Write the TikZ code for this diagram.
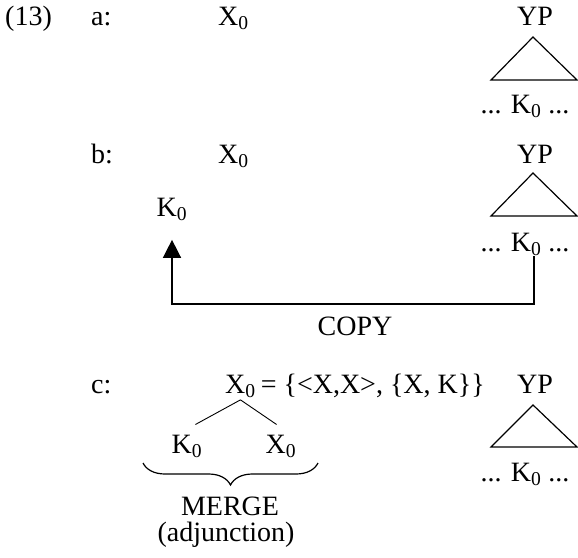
\documentclass[tikz,border=0pt]{standalone}
\usepackage{fontspec}
\setmainfont{Liberation Serif}
\usetikzlibrary{
    arrows.meta,
    positioning,
    calc,
    decorations.pathreplacing
}

\begin{document}
\begin{tikzpicture}[x=1pt, y=-1pt, font=\fontsize{28}{32}\selectfont,
                    txt/.style={inner sep=0pt, anchor=base west},
                    ctr/.style={inner sep=0pt, anchor=base}]
                    \useasboundingbox (0,0) rectangle (578,557);
                    % row a
                    \node[txt] (num) at (5,25) {(13)};
                    \node[txt] (la) at (91,25) {a:};
                    \node[txt] (xa) at (218,25) {X\textsubscript{0}};
                    \node[ctr] (ypa) at (535,25) {YP};
                    \node[ctr] (ka) at (525,113) {... K\textsubscript{0} ...};
                    \draw[line width=1.2pt] (533,37) -- (577,80) -- (491,80) -- cycle;
                    % row b
                    \node[txt] (lb) at (91,163) {b:};
                    \node[txt] (xb) at (218,163) {X\textsubscript{0}};
                    \node[ctr] (ypb) at (535,163) {YP};
                    \node[ctr] (kdots) at (525,251) {... K\textsubscript{0} ...};
                    \draw[line width=1.2pt] (533,173) -- (577,216) -- (491,216) -- cycle;
                    \node[ctr] (kb) at (172,216) {K\textsubscript{0}};
                    \draw[line width=1.5pt, -{Triangle[width=18pt, length=18pt]}, shorten >=19pt]
                        ([xshift=9pt]kdots.south) -- ++(0,48) -| (kb.south);
                    \node[ctr] (copy) at (355,335) {COPY};
                    % row c
                    \node[txt] (lc) at (91,393) {c:};
                    \node[txt] (xc) at (225,393) {X\textsubscript{0}};
                    \node[txt, right=0pt of xc.base east, anchor=base west] (set) {\,= \{<X,X>, \{X, K\}\}};
                    \node[ctr] (ypc) at (535,393) {YP};
                    \node[ctr] (kc3) at (525,481) {... K\textsubscript{0} ...};
                    \draw[line width=1.2pt] (533,405) -- (577,447) -- (491,447) -- cycle;
                    \node[ctr] (kc) at (187,453) {K\textsubscript{0}};
                    \node[ctr] (xd) at (281,453) {X\textsubscript{0}};
                    \draw[line width=0.9pt] ([yshift=-2pt]xc.south) -- ([xshift=-7pt, yshift=10pt]kc.north east);
                    \draw[line width=0.9pt] ([yshift=-2pt]xc.south) -- ([xshift=11pt, yshift=10pt]xd.north west);
                    \draw[line width=1.2pt, decorate, decoration={brace, amplitude=22pt, mirror}]
                        (143,463) -- (318,463);
                    \node[ctr] (merge) at (230,515) {MERGE};
                    \node[ctr] (adj) at (226,541) {(adjunction)};
                \end{tikzpicture}
\end{document}
